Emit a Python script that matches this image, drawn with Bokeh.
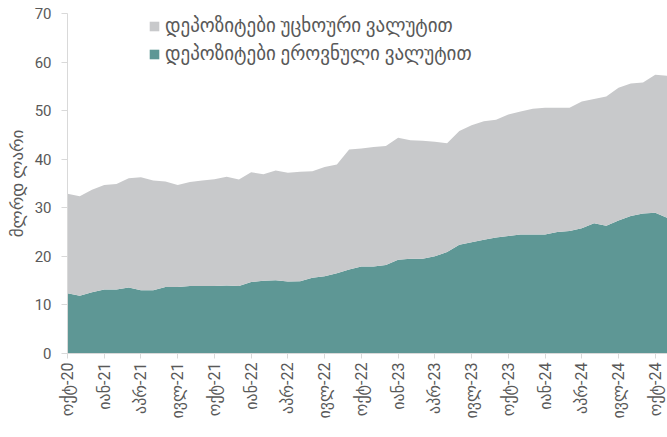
import numpy as np
from bokeh.plotting import figure
from bokeh.models import (Range1d, FixedTicker, Legend, LegendItem)
from bokeh.embed import file_html
from bokeh.resources import INLINE

# Monthly data, Oct-2020 .. Nov-2024 (billion GEL)
months = ["ოქტ-20", "ნოე-20", "დეკ-20", "იან-21", "თებ-21", "მარ-21", "აპრ-21", "მაი-21", "ივნ-21",
          "ივლ-21", "აგვ-21", "სექ-21", "ოქტ-21", "ნოე-21", "დეკ-21", "იან-22", "თებ-22", "მარ-22",
          "აპრ-22", "მაი-22", "ივნ-22", "ივლ-22", "აგვ-22", "სექ-22", "ოქტ-22", "ნოე-22", "დეკ-22",
          "იან-23", "თებ-23", "მარ-23", "აპრ-23", "მაი-23", "ივნ-23", "ივლ-23", "აგვ-23", "სექ-23",
          "ოქტ-23", "ნოე-23", "დეკ-23", "იან-24", "თებ-24", "მარ-24", "აპრ-24", "მაი-24", "ივნ-24",
          "ივლ-24", "აგვ-24", "სექ-24", "ოქტ-24", "ნოე-24"]

deposits_gel = [12.4, 11.9, 12.6, 13.2, 13.2, 13.6, 13.0, 13.0, 13.7, 13.7,
                13.9, 13.9, 13.9, 14.0, 13.9, 14.7, 15.0, 15.1, 14.8, 14.9,
                15.6, 15.9, 16.5, 17.3, 17.9, 17.9, 18.2, 19.3, 19.5, 19.5,
                20.0, 20.9, 22.4, 22.9, 23.4, 23.9, 24.2, 24.5, 24.5, 24.5,
                25.0, 25.2, 25.8, 26.8, 26.3, 27.4, 28.3, 28.8, 29.0, 27.9]

deposits_total = [32.9, 32.4, 33.7, 34.7, 34.9, 36.1, 36.3, 35.6, 35.4, 34.7,
                  35.3, 35.6, 35.9, 36.4, 35.8, 37.3, 36.9, 37.7, 37.2, 37.4,
                  37.5, 38.4, 38.9, 42.0, 42.2, 42.5, 42.7, 44.4, 43.9, 43.8,
                  43.6, 43.3, 45.8, 47.0, 47.8, 48.1, 49.2, 49.8, 50.4, 50.6,
                  50.6, 50.6, 51.9, 52.4, 52.9, 54.7, 55.6, 55.8, 57.4, 57.2]

deposits_fx = [round(t - g, 1) for t, g in zip(deposits_total, deposits_gel)]

tick_every = 3
y_ticks = [0, 10, 20, 30, 40, 50, 60, 70]

label_fx = "დეპოზიტები უცხოური ვალუტით"
label_gel = "დეპოზიტები ეროვნული ვალუტით"
y_title = "მლრდ ლარი"

GRAY = "#C8C9CB"
TEAL = "#5E9795"
TXT = "#595959"
AX = "#D9D9D9"
FONT = "Roboto, 'DejaVu Sans', sans-serif"

x = np.arange(len(months))
gel = np.array(deposits_gel)
fx = np.array(deposits_fx)
top = gel + fx

p = figure(width=667, height=437, output_backend="svg", toolbar_location=None,
           x_range=Range1d(0, len(months) - 1), y_range=Range1d(0, 70),
           min_border_left=67, min_border_right=0, min_border_top=13, min_border_bottom=84)

r_gel = p.varea(x=x, y1=np.zeros_like(gel), y2=gel, fill_color=TEAL)
r_fx = p.varea(x=x, y1=gel, y2=top, fill_color=GRAY)

p.xgrid.visible = False
p.ygrid.visible = False
p.outline_line_color = None
p.background_fill_color = "white"
p.border_fill_color = "white"

tick_idx = list(range(0, len(months), tick_every))
p.xaxis.ticker = FixedTicker(ticks=tick_idx)
p.xaxis.major_label_overrides = {i: months[i] for i in tick_idx}
p.xaxis.major_label_orientation = np.pi / 2
p.xaxis.axis_line_color = AX
p.xaxis.major_tick_line_color = AX
p.xaxis.major_tick_out = 5
p.xaxis.major_tick_in = 0
p.xaxis.minor_tick_line_color = None
p.xaxis.major_label_text_font = FONT
p.xaxis.major_label_text_font_size = "16px"
p.xaxis.major_label_text_color = TXT
p.xaxis.major_label_standoff = 4

p.yaxis.ticker = FixedTicker(ticks=y_ticks)
p.yaxis.axis_line_color = AX
p.yaxis.major_tick_line_color = AX
p.yaxis.major_tick_out = 6
p.yaxis.major_tick_in = 0
p.yaxis.minor_tick_line_color = None
p.yaxis.major_label_text_font = FONT
p.yaxis.major_label_text_font_size = "15px"
p.yaxis.major_label_text_color = TXT
p.yaxis.major_label_standoff = 10
p.yaxis.axis_label = y_title
p.yaxis.axis_label_text_font = FONT
p.yaxis.axis_label_text_font_size = "17px"
p.yaxis.axis_label_text_font_style = "normal"
p.yaxis.axis_label_text_color = TXT
p.yaxis.axis_label_standoff = 5

legend = Legend(items=[LegendItem(label=label_fx, renderers=[r_fx]),
                       LegendItem(label=label_gel, renderers=[r_gel])],
                location=(81, 288), orientation="vertical",
                glyph_width=12, glyph_height=12, label_height=22, spacing=5,
                label_standoff=5, padding=0, margin=0,
                background_fill_alpha=0, border_line_color=None,
                label_text_font=FONT, label_text_font_size="19px",
                label_text_color=TXT)
p.add_layout(legend)

open("out.html", "w").write(file_html(p, INLINE))
